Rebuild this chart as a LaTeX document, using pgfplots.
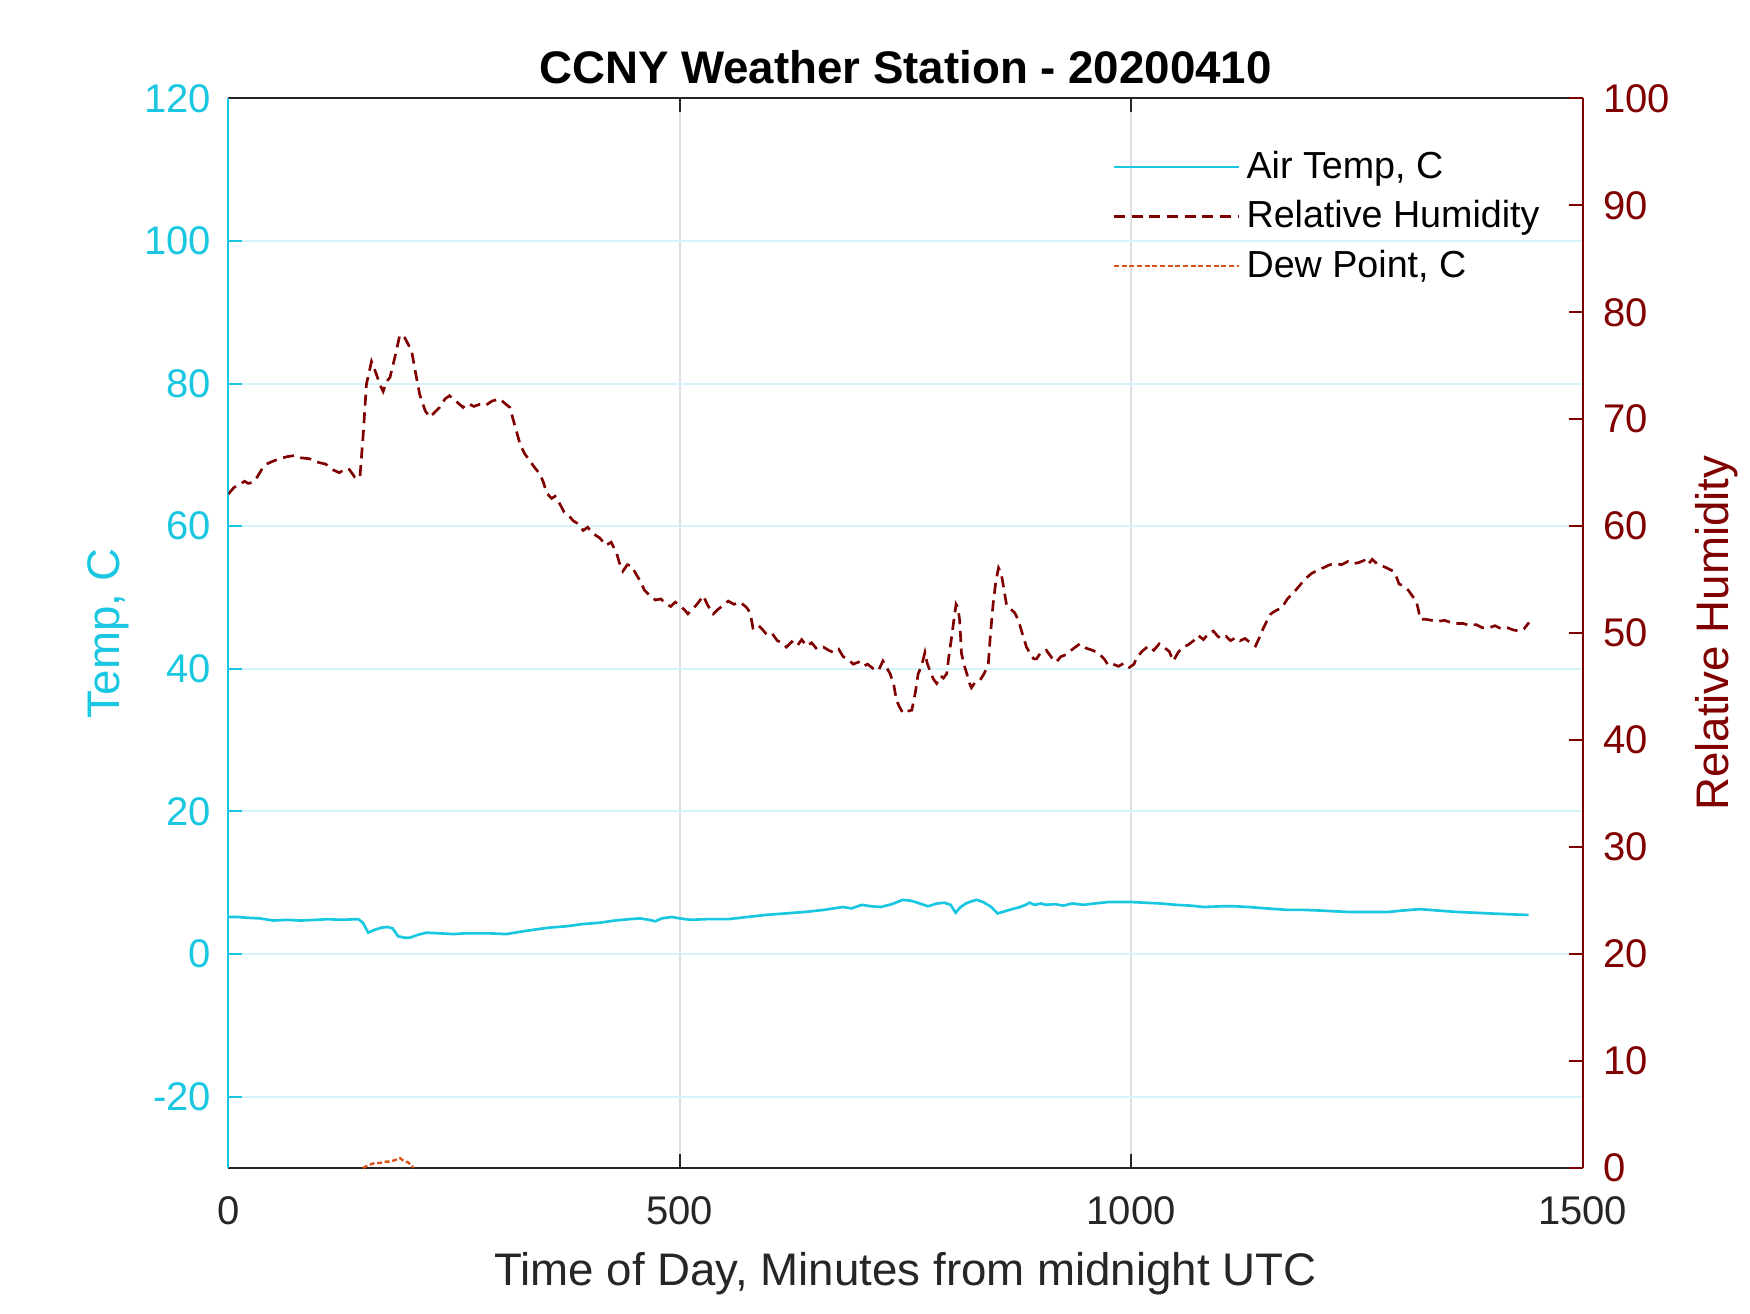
\documentclass[border=0pt]{standalone}
\usepackage{fontspec}
\setmainfont{Liberation Sans}
\usepackage{pgfplots}
\pgfplotsset{compat=1.18}
\definecolor{tc}{RGB}{25,199,224}
\definecolor{rh}{RGB}{128,0,0}
\definecolor{dp}{RGB}{217,83,25}
\definecolor{ax}{RGB}{38,38,38}
\definecolor{gx}{RGB}{222,224,228}
\definecolor{gy}{RGB}{214,244,250}
\pgfplotsset{/pgf/number format/assume math mode=true, /pgf/number format/1000 sep={}}

\pgfplotstableread{
t T
0 5.2
10 5.2
20 5.1
35 5.0
50 4.7
65 4.8
80 4.7
97.7 4.8
110 4.9
125 4.8
143.8 4.9
149 4.4
154.9 3.0
162 3.4
169.7 3.7
176 3.8
182 3.6
188 2.5
195 2.3
201 2.3
210 2.7
219.5 3.0
235 2.9
249 2.8
262 2.9
275 2.9
290 2.9
308 2.8
322 3.1
337.7 3.4
355 3.7
374.6 3.9
392 4.2
411.5 4.4
428 4.7
444.8 4.9
455.8 5.0
466 4.8
473 4.6
480 5.0
491 5.2
500 5.0
512 4.8
530 4.9
554 4.9
575 5.2
596 5.5
617 5.7
638 5.9
660 6.2
680.5 6.6
690 6.4
701.5 6.9
712 6.7
722.6 6.6
735 7.0
747 7.6
755 7.5
761 7.3
768 7.0
775 6.7
785 7.1
793 7.2
800 6.9
805.5 5.8
811 6.6
817 7.1
823 7.4
829 7.6
836 7.3
845 6.6
852 5.7
860 6.0
868 6.3
877 6.6
883 6.9
887.6 7.2
893 6.9
900 7.1
905 6.9
915 7.0
925 6.8
935 7.1
947 6.9
960 7.1
975 7.3
990 7.3
1000 7.3
1015 7.2
1031.5 7.1
1050 6.9
1065 6.8
1080.7 6.6
1100 6.7
1115 6.7
1130 6.6
1150 6.4
1172 6.2
1190 6.2
1210 6.1
1225 6.0
1242 5.9
1260 5.9
1284 5.9
1300 6.1
1319.5 6.3
1340 6.1
1361.6 5.9
1380 5.8
1396.7 5.7
1415 5.6
1435 5.5
1440 5.5
}\temptable

\pgfplotstableread{
t D
149 -30.0
155 -29.6
162 -29.3
168 -29.3
173 -29.1
179 -29.1
184.5 -28.9
190 -28.6
194 -29.0
199 -29.2
203.5 -29.7
205 -30.0
}\dewtable

\pgfplotstableread{
t H
0 63.0
6 63.6
12 63.9
18 64.2
22 64.0
27 64.1
32 64.6
37 65.3
42 65.8
50 66.1
57 66.3
65 66.5
73 66.6
80 66.4
90 66.3
98 66.0
108 65.8
115 65.3
123 65.0
130 65.4
134 65.3
140 64.6
145.7 64.5
149.4 68.6
153 73.3
158.6 75.4
164 74.2
168 73.2
171.5 72.6
175 73.5
179 73.9
184.5 75.8
190 77.9
195.5 77.6
203 76.4
207 74.5
212 72.3
218 70.8
223 70.2
228 70.6
234 71.1
240 71.9
245 72.2
252 71.7
260 71.1
265 71.5
272 71.2
278.6 71.4
285 71.3
292 71.7
300.8 71.9
306 71.5
311.8 71.1
317 69.5
323 67.7
328 66.8
334 66.1
340 65.4
345 64.9
349 64.1
352.5 63.1
358 62.6
362 62.8
367 62.1
372 61.3
377 61.0
382 60.5
388 60.2
393 59.6
398 59.9
404 59.3
411.5 58.9
418 58.2
424 58.5
430 57.5
433 56.6
437 55.8
442 56.4
446.7 56.3
451 55.6
456 54.9
461 54.0
467 53.5
473 53.1
479 53.2
485 52.7
490 52.5
495 52.9
500 52.6
505 52.2
509 51.8
515 52.3
520 52.8
526 53.5
531 52.6
537 51.8
542 52.2
548 52.6
553.7 53.0
560 52.7
567 52.9
574 52.4
578 51.9
581 50.5
586 50.8
591 50.4
596 49.9
602 50.0
608 49.3
613 49.1
618 48.7
624 49.2
630 48.8
635 49.4
640.5 48.8
646 49.1
652 48.5
659 48.7
665 48.4
670 48.2
676 48.5
681 47.8
686 47.6
692 47.1
698 47.3
703 46.9
708 47.1
714 46.7
720 46.5
725 47.4
729 46.8
733 46.2
737 45.2
740 43.7
744 43.0
747.5 42.5
752 42.7
757 42.8
761 44.5
764 46.2
768 47.0
771.5 48.2
774 47.2
777 46.5
781 45.7
784.5 45.3
789 46.0
792 45.8
795.6 46.2
798 47.8
801 49.6
804 51.5
806 52.7
808 52.4
810 51.2
812 48.1
815 47.0
818 46.2
820 45.5
823 44.9
827 45.4
832.5 45.6
837 46.2
841.7 47.1
844 49.8
847 52.7
850 54.8
853 56.1
856 55.6
858 54.6
862 52.6
866 52.3
871 51.9
875 51.2
880 49.8
884 48.7
888 48.1
892 47.6
895 47.6
900 48.2
906 48.4
912 47.7
917 47.3
922 47.8
928 48.0
935 48.5
943 49.0
950 48.6
957 48.4
964 48.1
970 47.6
974.6 47.0
980 47.1
986 46.9
992 47.2
998 46.8
1003 47.1
1006 47.7
1012 48.3
1019 48.8
1025 48.4
1031 49.0
1036 48.7
1042 48.3
1046.6 47.4
1052 48.2
1057 48.7
1063 48.9
1069 49.3
1074 49.8
1080 49.4
1086 50.0
1091 50.2
1096 49.7
1099.6 49.5
1105 49.7
1110 49.3
1116 49.6
1120.7 49.3
1126 49.5
1132 49.1
1137.7 48.8
1142 49.6
1146 50.4
1150 51.1
1154.6 51.8
1160 52.1
1167 52.4
1173 53.2
1180 53.8
1186 54.4
1193 55.1
1200 55.6
1209.7 56.0
1215 56.2
1220 56.4
1226.7 56.5
1233 56.4
1240 56.7
1246 56.5
1252 56.6
1258 56.8
1262 56.4
1267 56.9
1272 56.5
1277.5 56.3
1283 56.1
1290 55.8
1294 55.2
1296.6 54.6
1302 54.4
1307 54.0
1312 53.4
1315.7 53.0
1318 52.2
1320 51.3
1326 51.3
1332.6 51.2
1340 51.1
1347 51.2
1353.8 51.0
1360 50.9
1368 50.9
1375 50.7
1382 50.8
1389 50.5
1396 50.5
1403 50.7
1410 50.4
1417 50.5
1423 50.3
1430 50.2
1435 50.4
1440.6 51.0
}\rhtable

\begin{document}
\begin{tikzpicture}
\begin{axis}[
  name=a1,
  scale only axis, width=406.3pt, height=320.9pt,
  xmin=0, xmax=1500, ymin=-30, ymax=120,
  xtick={0,500,1000,1500}, ytick={-20,0,20,40,60,80,100,120},
  separate axis lines,
  x axis line style={ax, line width=0.6pt},
  y axis line style={tc, line width=0.6pt},
  ytick pos=left, xtick pos=both,
  tick align=inside, major tick length=4.2pt,
  xtick style={ax, line width=0.6pt}, ytick style={tc, line width=0.6pt},
  xmajorgrids, ymajorgrids,
  every axis x grid/.style={gx, line width=0.6pt},
  every axis y grid/.style={gy, line width=0.6pt},
  xticklabel style={font=\fontsize{12}{14}\selectfont, text=ax, yshift=-5pt},
  yticklabel style={font=\fontsize{12}{14}\selectfont, text=tc, xshift=-1.7pt},
  xlabel={Time of Day, Minutes from midnight UTC},
  xlabel style={font=\fontsize{13.7}{16}\selectfont, text=ax, at={(axis description cs:0.5,-0.0986)}, anchor=center},
  ylabel={Temp, C},
  ylabel style={font=\fontsize{13.7}{16}\selectfont, text=tc, at={(axis description cs:-0.0888,0.5)}, anchor=center, rotate=0},
  title={CCNY Weather Station - 20200410},
  title style={font=\bfseries\fontsize{13.7}{16}\selectfont, text=black, at={(axis description cs:0.5,1.0105)}, anchor=center},
]
\addplot[tc, line width=0.8pt] table[x=t, y=T] {\temptable};
\addplot[dp, line width=0.7pt, dash pattern=on 1.5pt off 0.8pt] table[x=t, y=D] {\dewtable};
\end{axis}
\begin{axis}[
  scale only axis, width=406.3pt, height=320.9pt,
  xmin=0, xmax=1500, ymin=0, ymax=100,
  axis x line=none, axis y line*=right,
  y axis line style={rh, line width=0.6pt},
  ytick={0,10,...,100},
  tick align=inside, major tick length=4.2pt,
  ytick style={rh, line width=0.6pt},
  yticklabel style={font=\fontsize{12}{14}\selectfont, text=rh, xshift=2.6pt},
  ylabel={Relative Humidity},
  ylabel style={font=\fontsize{13.7}{16}\selectfont, text=rh, at={(axis description cs:1.099,0.5)}, anchor=center, rotate=0},
  legend style={draw=none, fill=none, at={(axis description cs:0.645,0.964)}, anchor=north west,
    font=\fontsize{11.3}{13}\selectfont, row sep=1.2pt},
  legend cell align=left,
  legend image code/.code={\draw[#1] (0pt,0pt) -- (37.4pt,0pt);},
]
\addlegendimage{tc, line width=0.8pt}
\addlegendentry{Air Temp, C}
\addplot[rh, line width=0.8pt, dash pattern=on 3.3pt off 2pt] table[x=t, y=H] {\rhtable};
\addlegendentry{Relative Humidity}
\addlegendimage{dp, line width=0.7pt, dash pattern=on 1.5pt off 0.8pt}
\addlegendentry{Dew Point, C}
\end{axis}
\pgfresetboundingbox
\path (-68.5pt,-43.5pt) rectangle (456.5pt,350.4pt);
\end{tikzpicture}
\end{document}
